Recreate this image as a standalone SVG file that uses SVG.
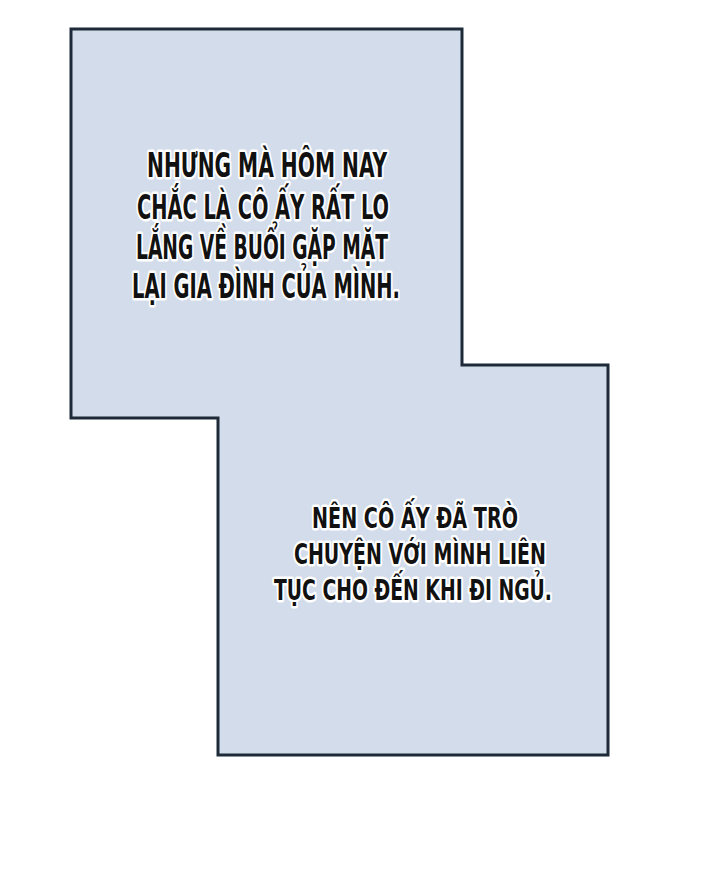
<svg xmlns="http://www.w3.org/2000/svg" width="720" height="877" viewBox="0 0 720 877">
<style>
.t{font-family:"DejaVu Sans Condensed","DejaVu Sans",sans-serif;font-weight:bold;fill:#111;stroke:#fff;stroke-width:5;stroke-linejoin:round;paint-order:stroke;text-anchor:middle}
.a{font-size:33px}
.b{font-size:28px}
</style>
<rect width="720" height="877" fill="#fff"/>
<g id="panel">
<path d="M71,29 H462 V365 H608 V755 H218 V418 H71 Z" fill="#d3dcea" stroke="#1e2a38" stroke-width="3"/>
</g>
<g id="text1">
<text class="t a" x="267" y="177" textLength="240" lengthAdjust="spacingAndGlyphs">NHƯNG MÀ HÔM NAY</text>
<text class="t a" x="263" y="219" textLength="252" lengthAdjust="spacingAndGlyphs">CHẮC LÀ CÔ ẤY RẤT LO</text>
<text class="t a" x="262" y="259" textLength="252" lengthAdjust="spacingAndGlyphs">LẮNG VỀ BUỔI GẶP MẶT</text>
<text class="t a" x="266" y="298" textLength="268" lengthAdjust="spacingAndGlyphs">LẠI GIA ĐÌNH CỦA MÌNH.</text>
</g>
<g id="text2">
<text class="t b" x="415" y="528" textLength="206" lengthAdjust="spacingAndGlyphs">NÊN CÔ ẤY ĐÃ TRÒ</text>
<text class="t b" x="420" y="564" textLength="252" lengthAdjust="spacingAndGlyphs">CHUYỆN VỚI MÌNH LIÊN</text>
<text class="t b" x="413" y="600" textLength="278" lengthAdjust="spacingAndGlyphs">TỤC CHO ĐẾN KHI ĐI NGỦ.</text>
</g>
</svg>
